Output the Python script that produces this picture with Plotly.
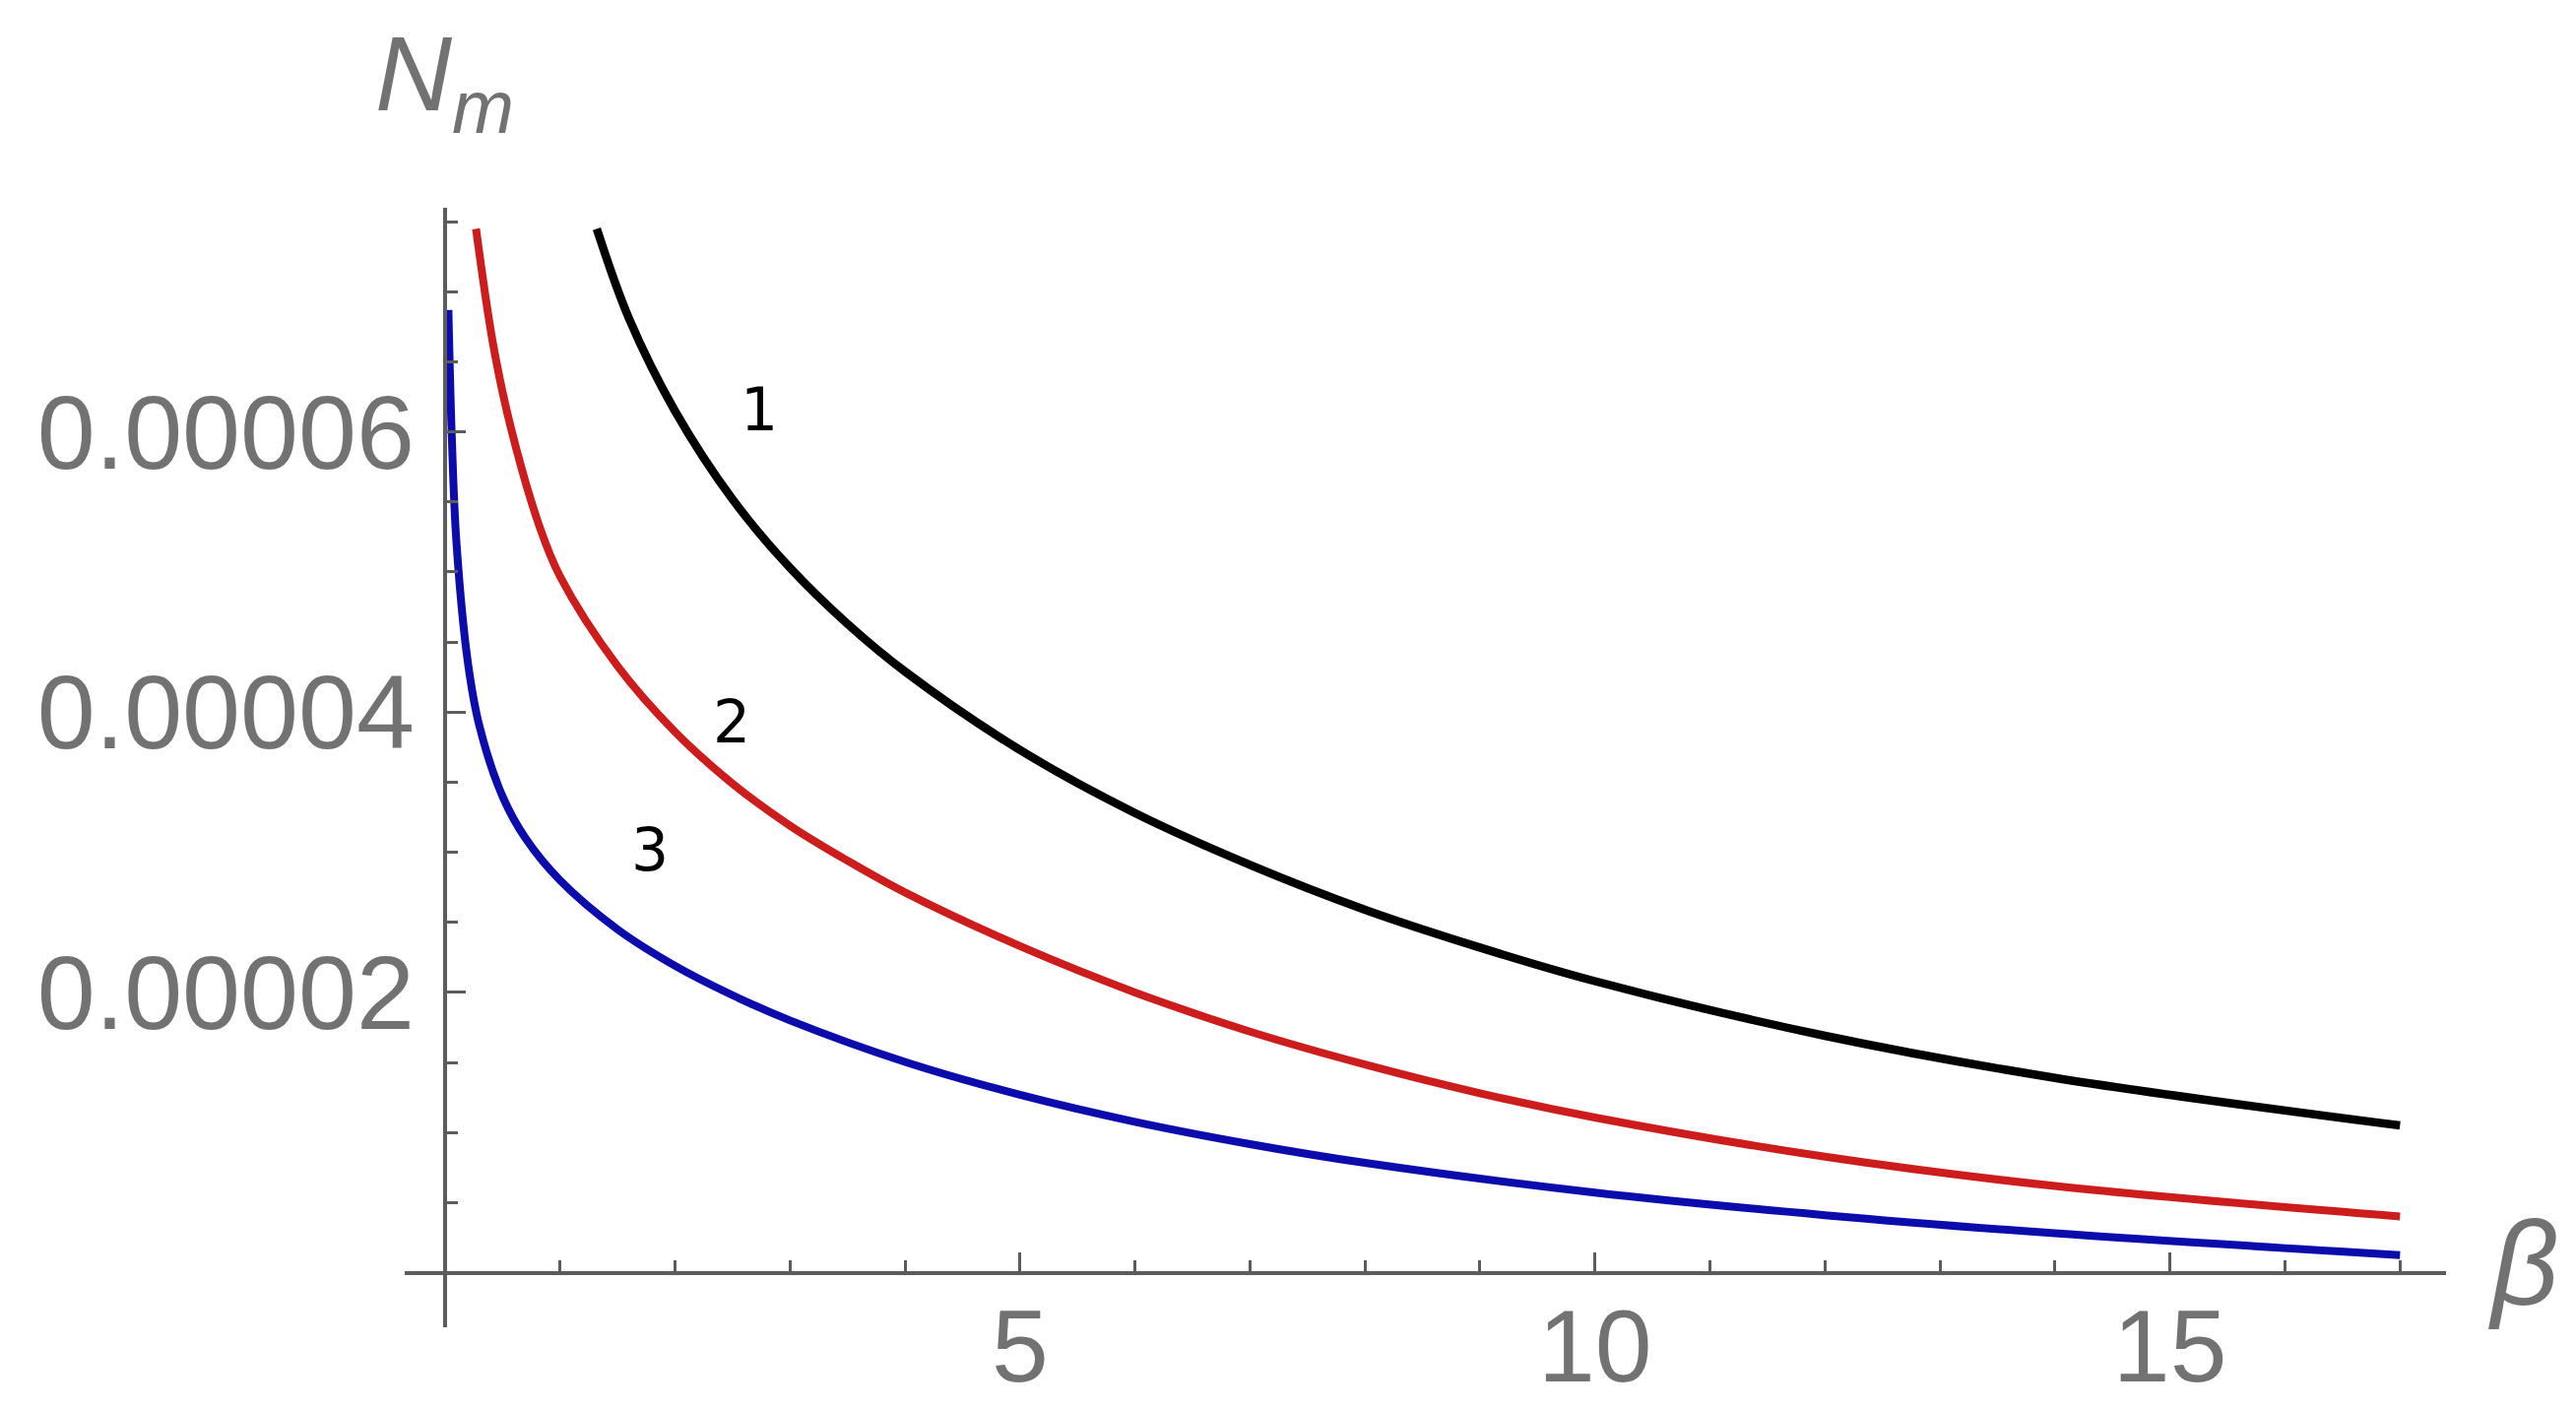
import plotly.graph_objects as go

# ---- data (beta, N_m) ----
beta_1 = [1.32, 1.6, 2.0, 2.5, 3.0, 3.5, 4.0, 5.0, 6.0, 7.0, 8.0, 9.0, 10.0, 12.0, 14.0, 17.0]
n_1 = [7.45e-5, 6.81e-5, 6.15e-5, 5.52e-5, 5.03e-5, 4.63e-5, 4.29e-5, 3.73e-5,
       3.28e-5, 2.91e-5, 2.59e-5, 2.32e-5, 2.08e-5, 1.69e-5, 1.39e-5, 1.05e-5]

beta_2 = [0.27, 0.42, 0.57, 0.82, 1.0, 1.5, 2.0, 2.5, 3.0, 3.5, 4.0, 5.0, 6.0, 7.0, 8.0, 9.0, 10.0,
          12.0, 14.0, 17.0]
n_2 = [7.45e-5, 6.62e-5, 6.04e-5, 5.33e-5, 4.97e-5, 4.33e-5, 3.86e-5, 3.49e-5, 3.19e-5, 2.94e-5,
       2.713e-5, 2.33e-5, 2.00e-5, 1.72e-5, 1.485e-5, 1.28e-5, 1.107e-5, 0.827e-5, 0.618e-5, 0.40e-5]

beta_3 = [0.03, 0.06, 0.10, 0.2, 0.3, 0.5, 0.7, 1.0, 1.5, 2.0, 2.5, 3.0, 4.0, 5.0, 6.0, 7.0, 8.0,
          10.0, 12.0, 14.0, 17.0]
n_3 = [6.87e-5, 5.95e-5, 5.21e-5, 4.35e-5, 3.90e-5, 3.40e-5, 3.10e-5, 2.80e-5, 2.45e-5, 2.19e-5,
       1.98e-5, 1.80e-5, 1.504e-5, 1.269e-5, 1.076e-5, 0.917e-5, 0.783e-5, 0.571e-5, 0.410e-5,
       0.281e-5, 0.125e-5]

curve_labels = ["1", "2", "3"]
label_beta = [2.73, 2.49, 1.78]
label_n = [6.16e-5, 3.93e-5, 3.02e-5]

x_tickvals = [5, 10, 15]
x_ticktext = ["5", "10", "15"]
y_tickvals = [2e-5, 4e-5, 6e-5]
y_ticktext = ["0.00002", "0.00004", "0.00006"]

# ---- styling ----
colors = ["#000000", "#cc1c1c", "#0c0cac"]
widths = [8.5, 8, 8]
axis_col = "#5c5c5c"
label_col = "#727272"
XR = [-0.35, 17.4]
YR = [-3.9e-6, 7.6e-5]

fig = go.Figure()
for bx, ny, c, w in zip([beta_1, beta_2, beta_3], [n_1, n_2, n_3], colors, widths):
    fig.add_trace(go.Scatter(x=bx, y=ny, mode="lines",
                             line=dict(color=c, width=w, shape="spline", smoothing=1.0),
                             showlegend=False, hoverinfo="skip"))

for t, bx, ny in zip(curve_labels, label_beta, label_n):
    fig.add_annotation(x=bx, y=ny, xref="x", yref="y", text=t, showarrow=False,
                       font=dict(family="DejaVu Sans", size=60, color="black"),
                       xanchor="center", yanchor="middle")

fig.add_annotation(x=0, y=1.113, xref="x", yref="paper",
                   text="<i>N</i><sub><i>m</i></sub>", showarrow=False,
                   font=dict(family="Liberation Sans", size=108, color=label_col),
                   xanchor="center", yanchor="middle")
fig.add_annotation(x=1.038, y=0, xref="paper", yref="y", yshift=10, text="<i>β</i>",
                   showarrow=False,
                   font=dict(family="Liberation Sans", size=120, color=label_col),
                   xanchor="center", yanchor="middle")

pos_x = (0 - YR[0]) / (YR[1] - YR[0])
pos_y = (0 - XR[0]) / (XR[1] - XR[0])

fig.update_layout(
    width=2616, height=1430,
    margin=dict(l=403, r=140, t=203, b=90, autoexpand=False),
    plot_bgcolor="white", paper_bgcolor="white",
    xaxis=dict(range=XR, anchor="free", position=pos_x, side="bottom", automargin=False,
               showline=True, linecolor=axis_col, linewidth=3.5,
               ticks="inside", ticklen=19, tickwidth=3, tickcolor=axis_col,
               tickmode="array", tickvals=x_tickvals, ticktext=x_ticktext,
               tickfont=dict(family="Liberation Sans", size=104, color=label_col),
               ticklabelstandoff=-16,
               showgrid=False, zeroline=False,
               minor=dict(ticks="inside", ticklen=11, tickwidth=2.5, tickcolor=axis_col,
                          tickmode="linear", tick0=0, dtick=1, showgrid=False)),
    yaxis=dict(range=YR, anchor="free", position=pos_y, side="left", automargin=False,
               showline=True, linecolor=axis_col, linewidth=3.5,
               ticks="inside", ticklen=19, tickwidth=3, tickcolor=axis_col,
               tickmode="array", tickvals=y_tickvals, ticktext=y_ticktext,
               tickfont=dict(family="Liberation Sans", size=106, color=label_col),
               ticklabelstandoff=8,
               showgrid=False, zeroline=False,
               minor=dict(ticks="inside", ticklen=11, tickwidth=2.5, tickcolor=axis_col,
                          tickmode="linear", tick0=0, dtick=5e-6, showgrid=False)),
)

fig.write_html("out.html")
